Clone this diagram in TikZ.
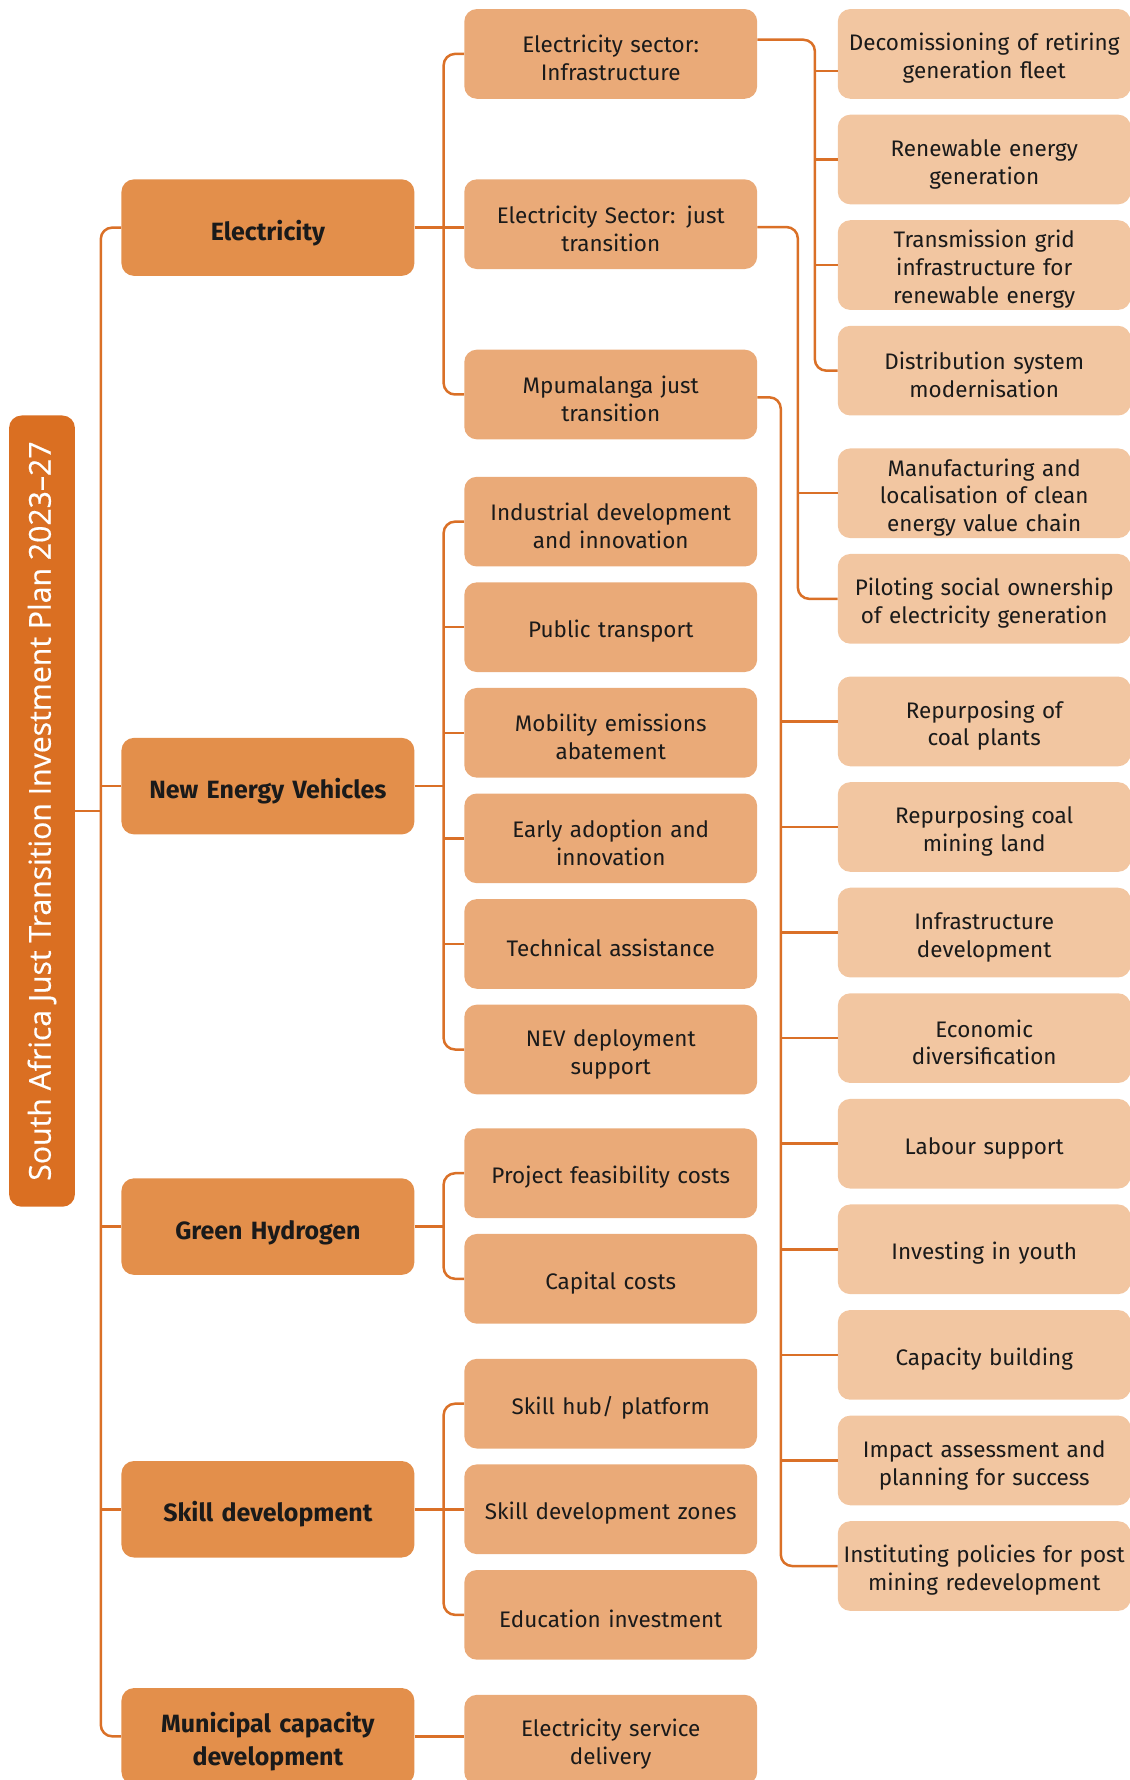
\documentclass[tikz,border=0pt]{standalone}
\usepackage{fontspec}
\setmainfont{Fira Sans}
\newfontfamily\titlefont[FakeBold=0.5]{Open Sans}
\usetikzlibrary{calc}
\definecolor{rootc}{HTML}{DA6F22}
\definecolor{lonec}{HTML}{E38F4B}
\definecolor{ltwoc}{HTML}{EAAA78}
\definecolor{lthreec}{HTML}{F2C6A1}
\definecolor{linec}{HTML}{DA7027}
\definecolor{txtc}{HTML}{1A1A1A}
\begin{document}
\begin{tikzpicture}[x=1pt,y=-1pt,
  box/.style={rounded corners=11pt, inner sep=0pt, align=center, text=txtc},
  lone/.style={box, fill=lonec, minimum width=258pt, minimum height=85pt, text width=250pt,
    font=\fontsize{22}{29}\selectfont\bfseries, execute at begin node={\rule{0pt}{27pt}}},
  ltwo/.style={box, fill=ltwoc, minimum width=258pt, minimum height=79pt, text width=256pt,
    font=\fontsize{19.8}{24.5}\selectfont, execute at begin node={\rule{0pt}{23pt}}},
  lthree/.style={ltwo, fill=lthreec},
  conn/.style={draw=linec, line width=2.2pt, rounded corners=10pt}]
\useasboundingbox (0,0) rectangle (995,1568);

% title bar, set sideways
\node[box, fill=rootc, minimum width=697pt, minimum height=58pt, rotate=90,
  text=white, font=\titlefont\fontsize{26.6}{30}\selectfont] (root) at (37,714.5)
  {South Africa Just Transition Investment Plan 2023–27};

% first level
\node[lone] (elec) at (236,200.5) {Electricity};
\node[lone] (nev)  at (236,692.5) {New Energy Vehicles};
\node[lone] (gh)   at (236,1080.5) {Green Hydrogen};
\node[lone] (skill) at (236,1329.5) {Skill development};
\node[lone] (muni) at (236,1529.5) {Municipal capacity\\development};

% second level
\node[ltwo] (ea) at (538,47.5) {Electricity sector:\\Infrastructure};
\node[ltwo] (eb) at (538,197.5) {Electricity Sector: just\\transition};
\node[ltwo] (ec) at (538,347.5) {Mpumalanga just\\transition};
\node[ltwo] (na) at (538,459.5) {Industrial development\\and innovation};
\node[ltwo] (nb) at (538,552.5) {Public transport};
\node[ltwo] (nc) at (538,645.5) {Mobility emissions\\abatement};
\node[ltwo] (nd) at (538,738.5) {Early adoption and\\innovation};
\node[ltwo] (ne) at (538,831.5) {Technical assistance};
\node[ltwo] (nf) at (538,924.5) {NEV deployment\\support};
\node[ltwo] (ga) at (538,1033.5) {Project feasibility costs};
\node[ltwo] (gb) at (538,1126.5) {Capital costs};
\node[ltwo] (sa) at (538,1236.5) {Skill hub/ platform};
\node[ltwo] (sb) at (538,1329.5) {Skill development zones};
\node[ltwo] (sc) at (538,1422.5) {Education investment};
\node[ltwo] (ma) at (538,1532.5) {Electricity service\\delivery};

% third level
\node[lthree] (ta) at (867,47.5) {Decomissioning of retiring\\generation fleet};
\node[lthree] (tb) at (867,140.5) {Renewable energy\\generation};
\node[lthree] (tc) at (867,233.5) {Transmission grid\\infrastructure for\\renewable energy};
\node[lthree] (td) at (867,326.5) {Distribution system\\modernisation};
\node[lthree] (te) at (867,434.5) {Manufacturing and\\localisation of clean\\energy value chain};
\node[lthree] (tf) at (867,527.5) {Piloting social ownership\\of electricity generation};
\node[lthree] (tg) at (867,635.5) {Repurposing of\\coal plants};
\node[lthree] (th) at (867,728.5) {Repurposing coal\\mining land};
\node[lthree] (ti) at (867,821.5) {Infrastructure\\development};
\node[lthree] (tj) at (867,914.5) {Economic\\diversification};
\node[lthree] (tk) at (867,1007.5) {Labour support};
\node[lthree] (tl) at (867,1100.5) {Investing in youth};
\node[lthree] (tm) at (867,1193.5) {Capacity building};
\node[lthree] (tn) at (867,1286.5) {Impact assessment and\\planning for success};
\node[lthree] (to) at (867,1379.5) {Instituting policies for post\\mining redevelopment};

% trunk from the title bar
\draw[conn] (elec.west) -- ++(-18,0) |- (muni.west);
\draw[conn] (root.south) -- (root.south -| {$(elec.west)+(-18,0)$});
\foreach \n in {nev,gh,skill} \draw[conn] (\n.west) -- ++(-18,0);

% first to second level
\draw[conn] (ea.west) -- ++(-18,0) |- (ec.west);
\draw[conn] (elec.east) -- (elec.east -| eb.west);
\draw[conn] (na.west) -- ++(-18,0) |- (nf.west);
\draw[conn] (nev.east) -- ++(26,0);
\foreach \n in {nb,nc,nd,ne} \draw[conn] (\n.west) -- ++(-18,0);
\draw[conn] (ga.west) -- ++(-18,0) |- (gb.west);
\draw[conn] (gh.east) -- ++(26,0);
\draw[conn] (sa.west) -- ++(-18,0) |- (sc.west);
\draw[conn] (skill.east) -- (sb.west);
\draw[conn] (muni.east) -- (muni.east -| ma.west);

% second to third level
\draw[conn] ($(ea.east)+(0,-12.5)$) -| ($(td.west)+(-20,0)$) -- (td.west);
\draw[conn] ($(ta.west)+(0,15)$) -- ++(-20,0);
\foreach \n in {tb,tc} \draw[conn] (\n.west) -- ++(-20,0);
\draw[conn] ($(eb.east)+(0,2.5)$) -| ($(tf.west)+(-35,0)$) -- (tf.west);
\draw[conn] (te.west) -- ++(-35,0);
\draw[conn] ($(ec.east)+(0,2.5)$) -| ($(to.west)+(-50,0)$) -- (to.west);
\foreach \n in {tg,th,ti,tj,tk,tl,tm,tn} \draw[conn] (\n.west) -- ++(-50,0);
\end{tikzpicture}
\end{document}
